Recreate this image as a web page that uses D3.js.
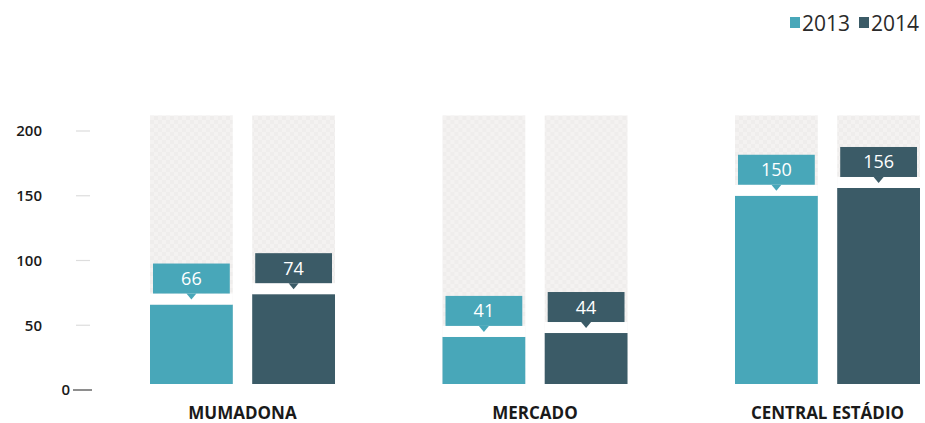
<!DOCTYPE html>
<html>
<head>
<meta charset="utf-8">
<script src="https://cdn.jsdelivr.net/npm/d3@7"></script>
<style>
  body { margin: 0; background: #fff; }
  svg { display: block; font-family: "Open Sans", sans-serif; }
</style>
</head>
<body>
<div id="chart"></div>
<script>
const width = 925;
const height = 423;

// data
const categories = ["MUMADONA", "MERCADO", "CENTRAL ESTÁDIO"];
const years = ["2013", "2014"];
const values2013 = [66, 41, 150];
const values2014 = [74, 44, 156];
const yTicks = [0, 50, 100, 150, 200];
const backgroundMax = 212;

const colors = { "2013": "#48a7b9", "2014": "#3b5b67" };

const rows = categories.map((c, i) => ({
    category: c,
    values: [
        { year: "2013", value: values2013[i] },
        { year: "2014", value: values2014[i] }
    ]
}));

var svg = d3.select("#chart").append("svg")
    .attr("width", width)
    .attr("height", height);

const defs = svg.append("defs");
const pattern = defs.append("pattern")
    .attr("id", "hatch")
    .attr("width", 8)
    .attr("height", 8)
    .attr("patternUnits", "userSpaceOnUse");
pattern.append("rect").attr("width", 8).attr("height", 8).attr("fill", "#f4f2f1");
pattern.append("rect").attr("width", 4).attr("height", 4).attr("fill", "#efedec");
pattern.append("rect").attr("x", 4).attr("y", 4).attr("width", 4).attr("height", 4).attr("fill", "#efedec");

const x0 = d3.scaleBand()
    .domain(categories)
    .range([150, 920])
    .paddingInner(0.3675);

const x1 = d3.scaleBand()
    .domain(years)
    .range([0, x0.bandwidth()])
    .paddingInner(0.19);

const y = d3.scaleLinear()
    .domain([0, 200])
    .range([390, 131]);

const baseline = 384;

// y axis
const yAxis = svg.append("g").attr("class", "yAxis");
yAxis.selectAll("text")
    .data(yTicks)
    .enter().append("text")
    .attr("x", d => d === 0 ? 70 : 42)
    .attr("y", d => y(d))
    .attr("dy", "0.35em")
    .style("text-anchor", "end")
    .style("font-size", "15px")
    .style("font-weight", "600")
    .style("fill", "#1a1a1a")
    .text(d => d);

yAxis.selectAll("line")
    .data(yTicks)
    .enter().append("line")
    .attr("x1", d => d === 0 ? 73 : 76)
    .attr("x2", d => d === 0 ? 92 : 90)
    .attr("y1", d => y(d))
    .attr("y2", d => y(d))
    .style("stroke", d => d === 0 ? "#444" : "#ddd")
    .style("stroke-width", 1.2);

const groups = svg.selectAll(".group")
    .data(rows)
    .enter().append("g")
    .attr("class", "group")
    .attr("transform", d => `translate(${x0(d.category)},0)`);

// background bars
groups.selectAll(".bg")
    .data(d => d.values)
    .enter().append("rect")
    .attr("class", "bg")
    .attr("x", d => x1(d.year))
    .attr("width", x1.bandwidth())
    .attr("y", y(backgroundMax))
    .attr("height", baseline - y(backgroundMax))
    .attr("fill", "url(#hatch)");

// value bars
groups.selectAll(".bar")
    .data(d => d.values)
    .enter().append("rect")
    .attr("class", "bar")
    .attr("x", d => x1(d.year))
    .attr("width", x1.bandwidth())
    .attr("y", d => y(d.value))
    .attr("height", d => baseline - y(d.value))
    .attr("fill", d => colors[d.year]);

// white gap above bars
groups.selectAll(".gap")
    .data(d => d.values)
    .enter().append("rect")
    .attr("class", "gap")
    .attr("x", d => x1(d.year))
    .attr("width", x1.bandwidth())
    .attr("y", d => y(d.value) - 11)
    .attr("height", 11)
    .attr("fill", "#fff");

// callouts
const boxH = 30;
const callouts = groups.selectAll(".callout")
    .data(d => d.values)
    .enter().append("g")
    .attr("class", "callout")
    .attr("transform", d => `translate(${x1(d.year) + x1.bandwidth() / 2},${y(d.value) - 11})`);

callouts.append("rect")
    .attr("x", -x1.bandwidth() / 2 + 3)
    .attr("y", -boxH)
    .attr("width", x1.bandwidth() - 6)
    .attr("height", boxH)
    .attr("fill", d => colors[d.year]);

callouts.append("path")
    .attr("d", "M-5,0 L5,0 L0,6 Z")
    .attr("fill", d => colors[d.year]);

callouts.append("text")
    .attr("y", -boxH / 2)
    .attr("dy", "0.36em")
    .style("text-anchor", "middle")
    .style("font-size", "18px")
    .style("fill", "#fff")
    .text(d => d.value);

// category labels
groups.append("text")
    .attr("x", x0.bandwidth() / 2)
    .attr("y", 413)
    .attr("dy", "0.35em")
    .style("text-anchor", "middle")
    .style("font-size", "17px")
    .style("font-weight", "bold")
    .style("fill", "#1a1a1a")
    .text(d => d.category);

// legend
const legend = svg.append("g").attr("class", "legend");
const legendX = { "2013": 790, "2014": 859 };
years.forEach(yr => {
    legend.append("rect")
        .attr("x", legendX[yr])
        .attr("y", 17)
        .attr("width", 10)
        .attr("height", 11)
        .attr("fill", colors[yr]);
    legend.append("text")
        .attr("x", legendX[yr] + 12)
        .attr("y", 23)
        .attr("dy", "0.36em")
        .style("font-size", "21px")
        .style("fill", "#2a2a2a")
        .text(yr);
});
</script>
</body>
</html>
